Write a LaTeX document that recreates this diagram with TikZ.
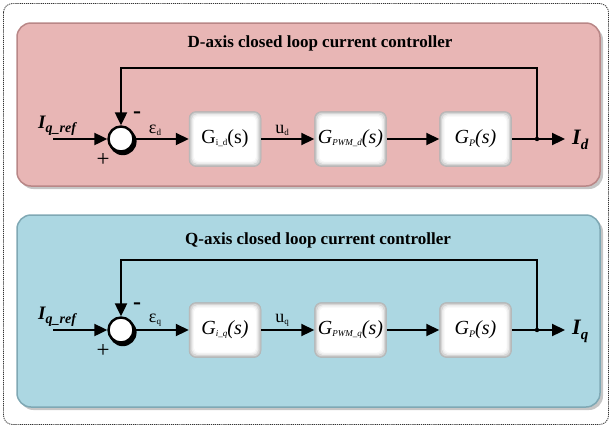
\documentclass[tikz,border=0pt]{standalone}
\usepackage{fontspec}
\setmainfont{Liberation Serif}
\usetikzlibrary{arrows.meta}

\definecolor{dpanel}{HTML}{E8B6B5}
\definecolor{dedge}{HTML}{B98787}
\definecolor{qpanel}{HTML}{ACD7E2}
\definecolor{qedge}{HTML}{7FA8B4}
\definecolor{frame}{HTML}{333333}

\newcommand{\sbs}[1]{\raisebox{-2pt}{\fontsize{9}{9}\selectfont #1}}
\newcommand{\ssbs}[1]{\raisebox{-2.5pt}{\fontsize{10}{10}\selectfont #1}}

\tikzset{
  outerframe/.style={draw=frame, line width=0.8pt, dash pattern=on 1.2pt off 0.9pt, rounded corners=9pt},
  panelshadow/.style={fill=gray!45, rounded corners=14pt},
  dpan/.style={fill=dpanel, draw=dedge, line width=1.5pt, rounded corners=14pt},
  qpan/.style={fill=qpanel, draw=qedge, line width=1.5pt, rounded corners=14pt},
  blockbox/.style={minimum width=72pt, minimum height=55pt, rounded corners=7pt,
    fill=gray!50, draw=gray!60, line width=0.5pt, inner sep=0pt,
    font=\fontsize{20}{20}\selectfont\itshape,
    path picture={
      \fill[gray!32, rounded corners=6pt]
        ([shift={(1.3pt,-1.3pt)}]path picture bounding box.north west) rectangle
        ([shift={(-1.3pt,1.3pt)}]path picture bounding box.south east);
      \fill[gray!16, rounded corners=5.5pt]
        ([shift={(2.6pt,-2.6pt)}]path picture bounding box.north west) rectangle
        ([shift={(-2.6pt,2.6pt)}]path picture bounding box.south east);
      \fill[gray!6, rounded corners=5pt]
        ([shift={(3.8pt,-3.8pt)}]path picture bounding box.north west) rectangle
        ([shift={(-3.8pt,3.8pt)}]path picture bounding box.south east);
      \fill[white, rounded corners=4.5pt]
        ([shift={(5pt,-5pt)}]path picture bounding box.north west) rectangle
        ([shift={(-5pt,5pt)}]path picture bounding box.south east);
    }},
  sumj/.style={circle, minimum size=25pt, fill=white, draw=black, line width=2.4pt, inner sep=0pt},
  arr/.style={-{Triangle[length=13pt,width=12pt]}, line width=2.2pt},
  title/.style={font=\fontsize{17}{17}\selectfont\bfseries},
  sig/.style={font=\fontsize{18}{18}\selectfont, anchor=south, inner sep=1pt},
  sign/.style={font=\fontsize{23}{23}\selectfont, inner sep=0pt},
  outlab/.style={anchor=west, inner sep=0pt, font=\fontsize{22}{22}\selectfont\bfseries\itshape},
  inlab/.style={anchor=base west, inner sep=0pt, font=\fontsize{19}{19}\selectfont\bfseries\itshape}
}

\begin{document}
\begin{tikzpicture}[x=1pt,y=-1pt]
\useasboundingbox (0,0) rectangle (612,429);

% outer dashed frame
\draw[outerframe] (3.5,3.5) rectangle (608.5,424.5);

% panels
\fill[panelshadow] (19.5,26) rectangle (603,189);
\draw[dpan] (17,23) rectangle (600,186);
\fill[panelshadow] (19.5,218) rectangle (603,410);
\draw[qpan] (17,215) rectangle (600,407);

% titles
\node[title] (dt) at (320,43) {D-axis closed loop current controller};
\node[title] (qt) at (318,240) {Q-axis closed loop current controller};

% ---------- D axis ----------
\coordinate (dsc) at (121,139);
\fill (dsc) ++(1.8,2.4) circle (13.8);
\node[sumj] (ds) at (dsc) {};
\node[blockbox] (dg1) at (225,139) {{\upshape G\sbs{i\_d}(s)}};
\node[blockbox] (dg2) at (350.5,139) {G\sbs{PWM\_d}(s)};
\node[blockbox] (dg3) at (475.5,139) {G\ssbs{P}(s)};
\coordinate (din) at (53,139);
\coordinate (dj) at (537,139);
\coordinate (dout) at (565,139);
\coordinate (dtop) at (537,68);

\draw[arr] (din) -- (ds);
\draw[arr] (ds) -- (dg1);
\draw[arr] (dg1) -- (dg2);
\draw[arr] (dg2) -- (dg3);
\draw[arr] (dg3) -- (dout);
\draw[arr] (dj) -- (dtop) -- (dsc |- dtop) -- (ds);
\fill (dj) circle (2.2);

\node[inlab] (dinl) at (38,128) {I\raisebox{-4pt}{\fontsize{14}{14}\selectfont q\_ref}};
\node[outlab] (doutl) at (572,140) {I\raisebox{-5pt}{\fontsize{15}{15}\selectfont d}};
\node[sig] (de) at (155,137) {ε\sbs{d}};
\node[sig] (du) at (282,137) {u\sbs{d}};
\node[sign, font=\fontsize{24}{24}\selectfont\bfseries] (dm) at (137,115) {-};
\node[sign] (dp) at (103,160) {+};

% ---------- Q axis ----------
\coordinate (qsc) at (121,330);
\fill (qsc) ++(1.8,2.4) circle (13.8);
\node[sumj] (qs) at (qsc) {};
\node[blockbox] (qg1) at (225,330) {G\sbs{i\_q}(s)};
\node[blockbox] (qg2) at (350.5,330) {G\sbs{PWM\_q}(s)};
\node[blockbox] (qg3) at (475.5,330) {G\ssbs{P}(s)};
\coordinate (qin) at (53,330);
\coordinate (qj) at (537,330);
\coordinate (qout) at (565,330);
\coordinate (qtop) at (537,260);

\draw[arr] (qin) -- (qs);
\draw[arr] (qs) -- (qg1);
\draw[arr] (qg1) -- (qg2);
\draw[arr] (qg2) -- (qg3);
\draw[arr] (qg3) -- (qout);
\draw[arr] (qj) -- (qtop) -- (qsc |- qtop) -- (qs);
\fill (qj) circle (2.2);

\node[inlab] (qinl) at (38,319) {I\raisebox{-4pt}{\fontsize{14}{14}\selectfont q\_ref}};
\node[outlab] (qoutl) at (572,331) {I\raisebox{-5pt}{\fontsize{15}{15}\selectfont q}};
\node[sig] (qe) at (155,328) {ε\sbs{q}};
\node[sig] (qu) at (282,328) {u\sbs{q}};
\node[sign, font=\fontsize{24}{24}\selectfont\bfseries] (qm) at (137,306) {-};
\node[sign] (qp) at (103,351) {+};
\end{tikzpicture}
\end{document}
